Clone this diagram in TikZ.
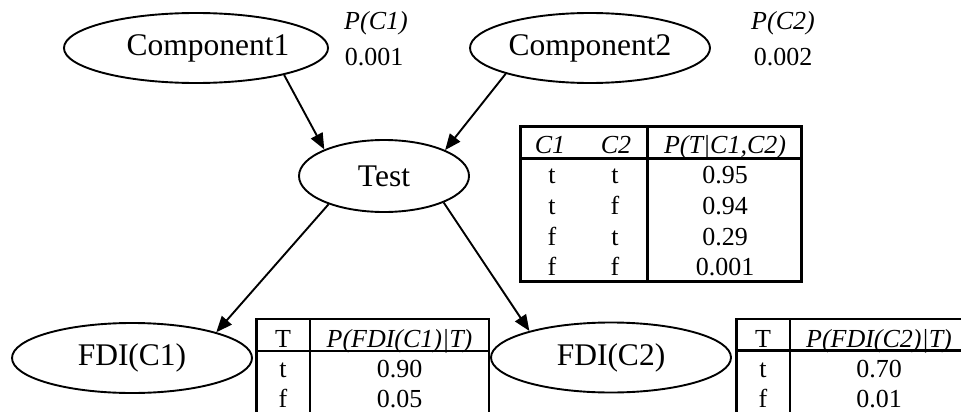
\documentclass[tikz,border=0pt]{standalone}
\usepackage{fontspec}
\setmainfont{Liberation Serif}
\usetikzlibrary{arrows.meta,shapes.geometric}
\begin{document}
\begin{tikzpicture}[x=1pt,y=-1pt,
  var/.style={draw,ellipse,line width=1.9pt,inner sep=0pt,
    minimum width=240pt,minimum height=70pt,font=\fontsize{31.5}{36}\selectfont},
  link/.style={line width=1.9pt,-{Triangle[length=16pt,width=13pt]}},
  grid/.style={line width=2.6pt},
  cell/.style={inner sep=0pt,anchor=base,font=\fontsize{26}{30}\selectfont},
  hd/.style={cell,font=\fontsize{26}{30}\selectfont\itshape}]
\clip (0,0) rectangle (961,412);

% network nodes
\node[var] (c1) at (196,48) {\hspace*{24pt}Component1};
\node[var] (c2) at (590,48) {Component2};
\node[var,minimum width=170pt,minimum height=72pt] (test) at (384,176) {Test};
\node[var] (f1) at (132,358) {FDI(C1)};
\node[var] (f2) at (611,357.5) {FDI(C2)};

% dependencies
\draw[link] (c1.-17) -- (test.156);
\draw[link] (c2.197.6) -- (test.23.8);
\draw[link] (test.207.7) -- (f1.17);
\draw[link] (test.336.8) -- (f2.162.6);

% priors
\node[hd] (p1) at (376,30) {P(C1)};
\node[cell] (v1) at (374,66) {0.001};
\node[hd] (p2) at (783,30) {P(C2)};
\node[cell] (v2) at (783,66) {0.002};

% table P(T|C1,C2)
\draw[grid] (520.7,126.7) rectangle (801.7,281.7);
\draw[grid] (520.7,158.3) -- (801.7,158.3);
\draw[grid] (647.7,126.7) -- (647.7,281.7);
\node[hd] (ta1) at (550,153) {C1};
\node[hd] (ta2) at (616,153) {C2};
\node[hd] (ta3) at (725,153) {P(T|C1,C2)};
\node[cell] (ta4) at (552,183) {t};  \node[cell] (ta5) at (615,183) {t};  \node[cell] (ta6) at (725,183) {0.95};
\node[cell] (ta7) at (552,214) {t};  \node[cell] (ta8) at (615,214) {f};  \node[cell] (ta9) at (725,214) {0.94};
\node[cell] (ta10) at (552,245) {f}; \node[cell] (ta11) at (615,245) {t}; \node[cell] (ta12) at (725,245) {0.29};
\node[cell] (ta13) at (552,275) {f}; \node[cell] (ta14) at (615,275) {f}; \node[cell] (ta15) at (725,275) {0.001};

% table P(FDI(C1)|T)
\draw[grid] (256.7,430) -- (256.7,319) -- (489,319) -- (489,430);
\draw[grid] (256.7,351) -- (489,351);
\draw[grid] (310,319) -- (310,430);
\node[cell] (tb1) at (283,347) {T};
\node[hd] (tb2) at (399.5,347) {P(FDI(C1)|T)};
\node[cell] (tb3) at (283,377) {t}; \node[cell] (tb4) at (399.5,377) {0.90};
\node[cell] (tb5) at (283,407) {f}; \node[cell] (tb6) at (399.5,407) {0.05};

% table P(FDI(C2)|T)
\draw[grid] (736.7,430) -- (736.7,319) -- (970,319);
\draw[grid] (736.7,350.7) -- (970,350.7);
\draw[grid] (790,319) -- (790,430);
\node[cell] (tc1) at (763,347) {T};
\node[hd] (tc2) at (879,347) {P(FDI(C2)|T)};
\node[cell] (tc3) at (763,377) {t}; \node[cell] (tc4) at (879,377) {0.70};
\node[cell] (tc5) at (763,407) {f}; \node[cell] (tc6) at (879,407) {0.01};
\end{tikzpicture}
\end{document}
